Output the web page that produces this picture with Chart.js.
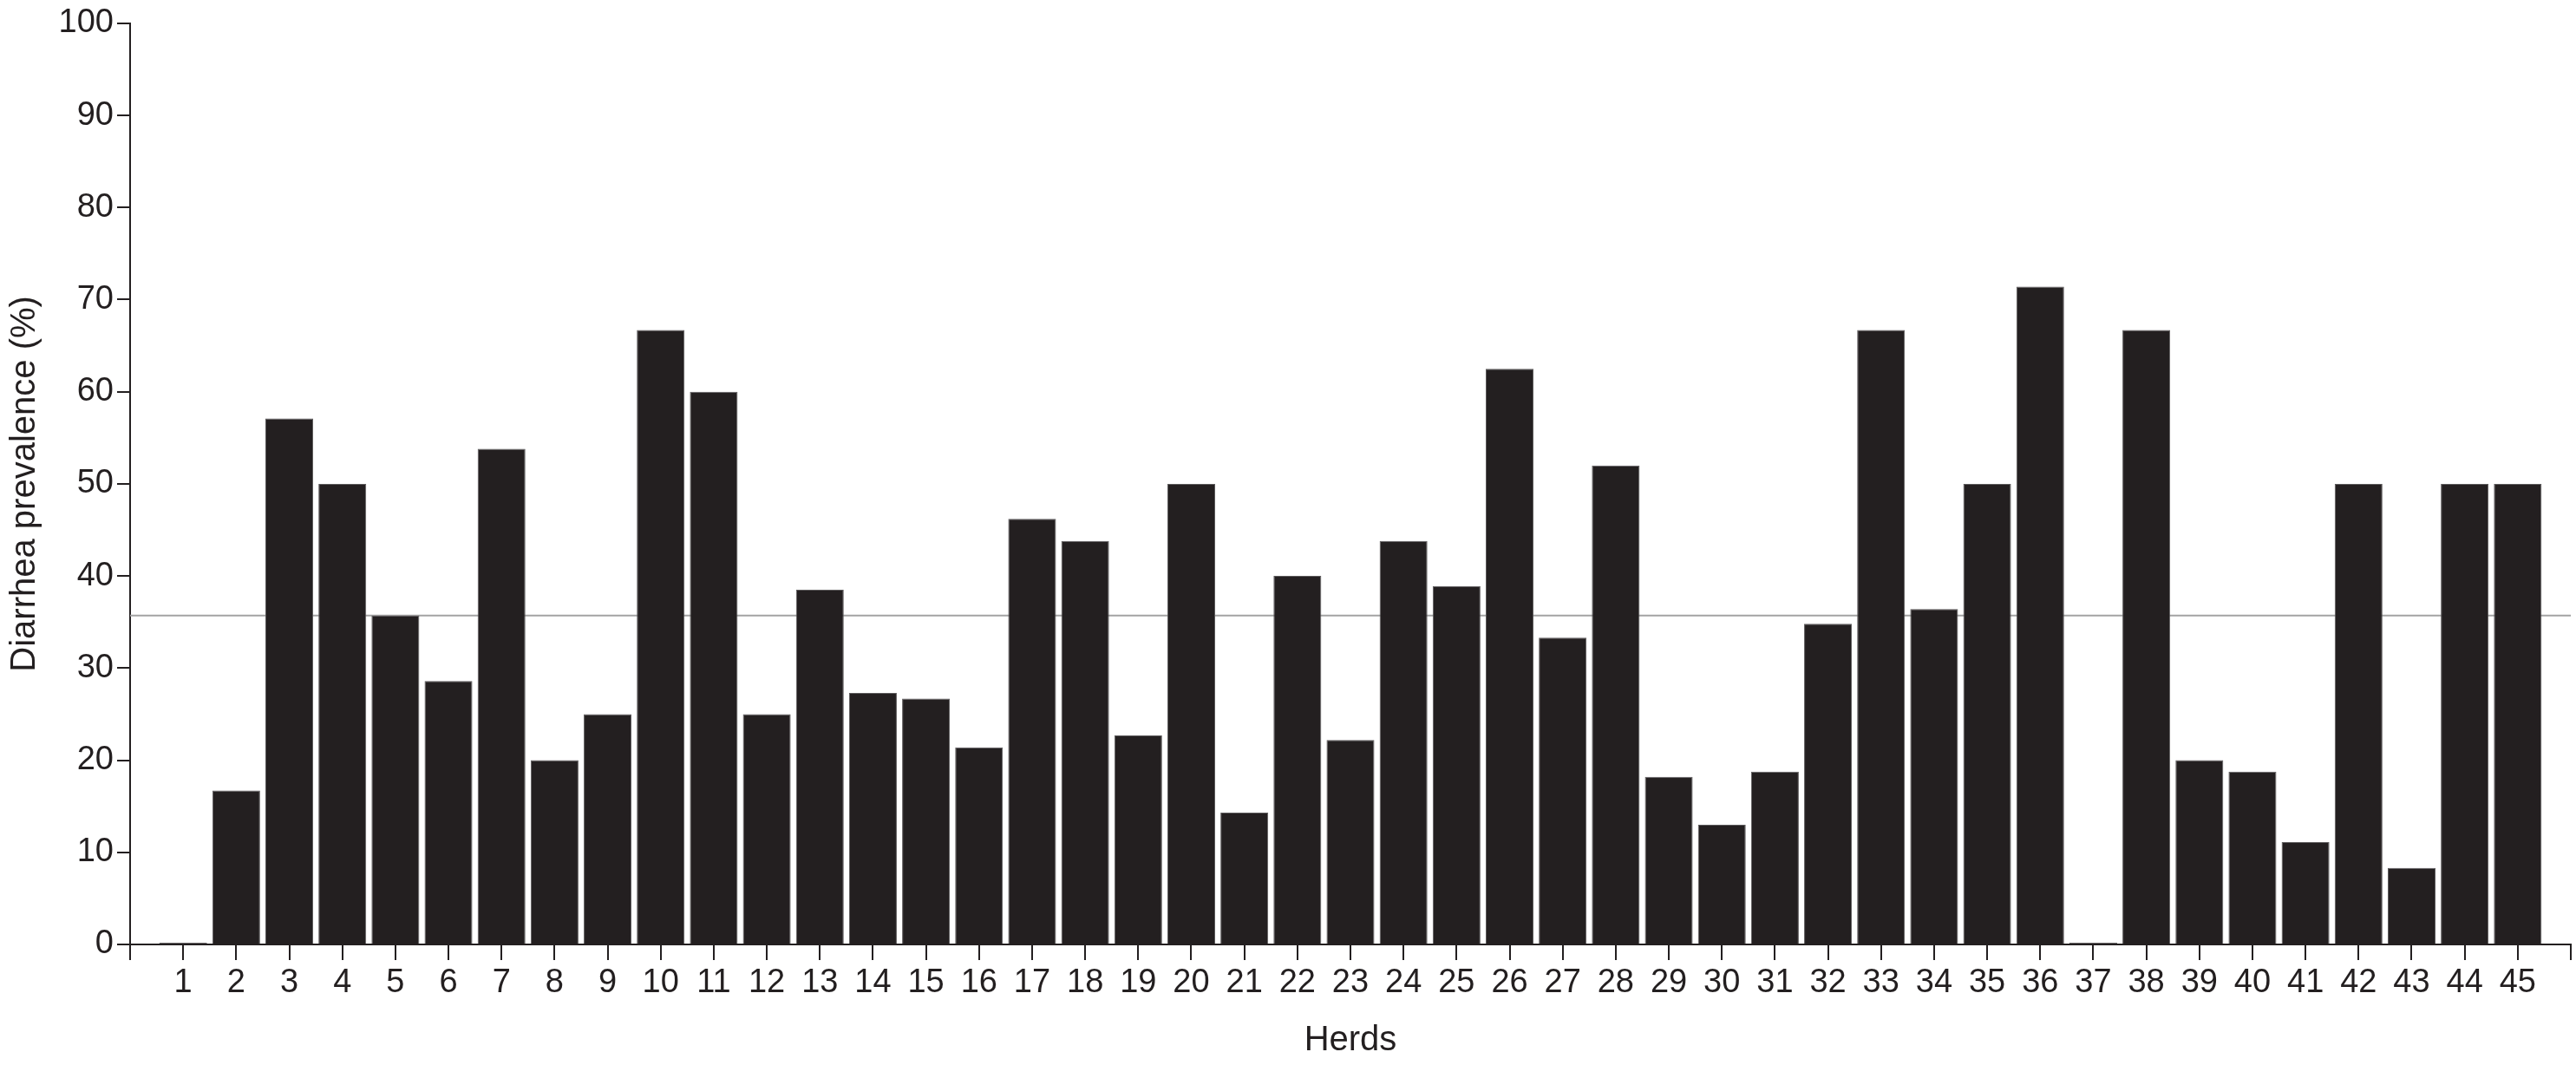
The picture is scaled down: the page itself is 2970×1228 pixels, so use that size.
<!DOCTYPE html>
<html>
<head>
<meta charset="utf-8">
<script src="https://cdn.jsdelivr.net/npm/chart.js@4.4.1/dist/chart.umd.min.js"></script>
<style>
  html, body { margin: 0; padding: 0; background: #fff; }
  #wrap { width: 2970px; height: 1228px; }
</style>
</head>
<body>
<div id="wrap"><canvas id="herdChart" width="2970" height="1228"></canvas></div>
<script>
// herd numbers 1..45, with empty slots at both ends of the axis
const herds = ['1', '2', '3', '4', '5', '6', '7', '8', '9', '10',
  '11', '12', '13', '14', '15', '16', '17', '18', '19', '20',
  '21', '22', '23', '24', '25', '26', '27', '28', '29', '30',
  '31', '32', '33', '34', '35', '36', '37', '38', '39', '40',
  '41', '42', '43', '44', '45'];

// diarrhea prevalence (%) per herd
const prevalence = [0, 16.7, 57.1, 50, 35.7, 28.6, 53.8, 20, 25, 66.7,
  60, 25, 38.5, 27.3, 26.7, 21.4, 46.2, 43.8, 22.7, 50,
  14.3, 40, 22.2, 43.8, 38.9, 62.5, 33.3, 52, 18.2, 13,
  18.75, 34.8, 66.7, 36.4, 50, 71.4, 0, 66.7, 20, 18.75,
  11.1, 50, 8.3, 50, 50];

// overall mean prevalence (grey reference line)
const meanPrevalence = 35.7;

const yTicks = [0, 10, 20, 30, 40, 50, 60, 70, 80, 90, 100];

const ink = '#231f20';
const labels = [''].concat(herds, ['']);
const barData = [null].concat(prevalence, [null]);
const meanData = labels.map(() => meanPrevalence);

const ctx = document.getElementById('herdChart').getContext('2d');

new Chart(ctx, {
  type: 'bar',
  data: {
    labels: labels,
    datasets: [
      {
        type: 'bar',
        label: 'Prevalence',
        data: barData,
        backgroundColor: ink,
        borderColor: '#5c5a5b',
        borderWidth: 1,
        borderSkipped: 'bottom',
        categoryPercentage: 0.9,
        barPercentage: 1.0,
        minBarLength: 2,
        order: 1
      },
      {
        type: 'line',
        label: 'Mean',
        data: meanData,
        borderColor: '#a3a3a3',
        borderWidth: 2,
        pointRadius: 0,
        fill: false,
        order: 2
      }
    ]
  },
  options: {
    responsive: false,
    devicePixelRatio: 1,
    animation: false,
    layout: { padding: { top: 21, right: 6, left: 5, bottom: 4 } },
    plugins: {
      legend: { display: false },
      tooltip: { enabled: false }
    },
    scales: {
      x: {
        type: 'category',
        offset: false,
        border: { display: true, color: ink, width: 2 },
        grid: {
          display: true,
          offset: false,
          drawOnChartArea: false,
          drawTicks: true,
          tickLength: 18,
          color: ink,
          lineWidth: 2
        },
        ticks: {
          autoSkip: false,
          maxRotation: 0,
          minRotation: 0,
          padding: 4,
          color: ink,
          font: { family: 'Liberation Sans, Arial, sans-serif', size: 38 }
        },
        title: {
          display: true,
          text: 'Herds',
          color: ink,
          padding: { top: 10, bottom: 0 },
          font: { family: 'Liberation Sans, Arial, sans-serif', size: 40 }
        },
        afterFit: function(scale) { scale.height = 135; }
      },
      y: {
        min: 0,
        max: 100,
        afterBuildTicks: function(scale) {
          scale.ticks = yTicks.map(v => ({ value: v }));
        },
        border: { display: true, color: ink, width: 2 },
        grid: {
          display: true,
          drawOnChartArea: false,
          drawTicks: true,
          tickLength: 15,
          color: ink,
          lineWidth: 2
        },
        ticks: {
          padding: 4,
          color: ink,
          font: { family: 'Liberation Sans, Arial, sans-serif', size: 38 }
        },
        title: {
          display: true,
          text: 'Diarrhea prevalence (%)',
          color: ink,
          padding: { top: 0, bottom: 0 },
          font: { family: 'Liberation Sans, Arial, sans-serif', size: 40 }
        },
        afterFit: function(scale) { scale.width = 145; }
      }
    }
  }
});
</script>
</body>
</html>
